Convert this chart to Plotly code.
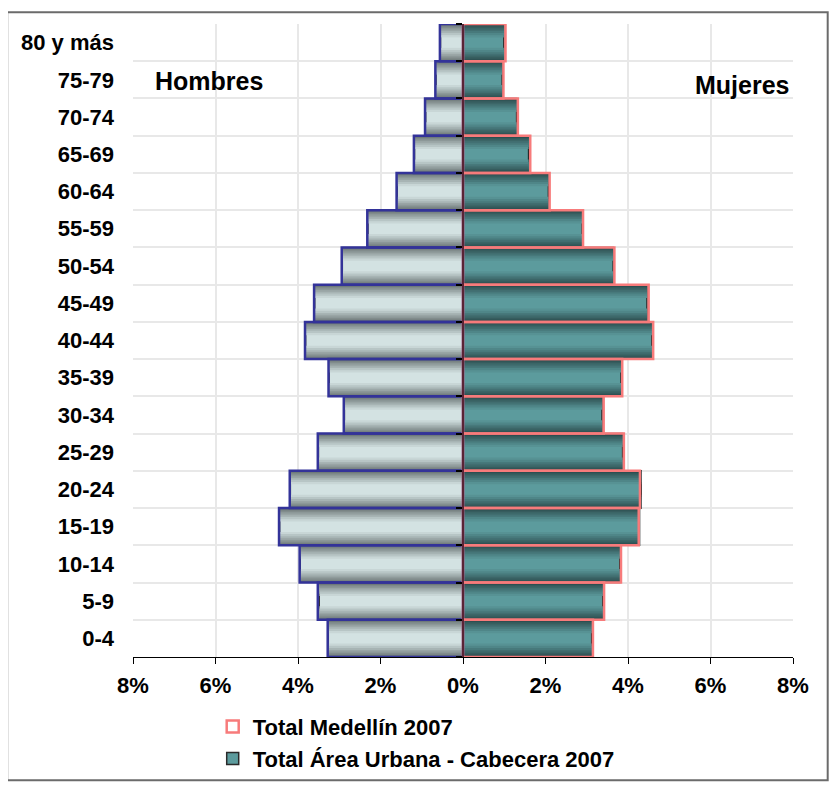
import plotly.graph_objects as go

# ---------------- data ----------------
edades = ["0-4", "5-9", "10-14", "15-19", "20-24", "25-29", "30-34", "35-39",
          "40-44", "45-49", "50-54", "55-59", "60-64", "65-69", "70-74", "75-79", "80 y más"]

hombres_medellin = [3.28, 3.52, 3.96, 4.46, 4.20, 3.52, 2.89, 3.26, 3.83, 3.61,
                    2.94, 2.32, 1.61, 1.19, 0.92, 0.67, 0.56]
hombres_urbana = [3.26, 3.48, 3.94, 4.44, 4.18, 3.50, 2.87, 3.24, 3.81, 3.59,
                  2.92, 2.30, 1.59, 1.17, 0.90, 0.65, 0.54]
mujeres_medellin = [3.15, 3.42, 3.83, 4.26, 4.29, 3.90, 3.41, 3.86, 4.61, 4.50,
                    3.67, 2.91, 2.10, 1.63, 1.33, 0.98, 1.03]
mujeres_urbana = [3.12, 3.39, 3.80, 4.28, 4.32, 3.87, 3.37, 3.83, 4.58, 4.46,
                  3.64, 2.89, 2.07, 1.59, 1.30, 0.95, 0.99]

x_ticks = [-8, -6, -4, -2, 0, 2, 4, 6, 8]
x_ticktext = ["8%", "6%", "4%", "2%", "0%", "2%", "4%", "6%", "8%"]

# ---------------- style ----------------
FONT = "Liberation Sans, Arial, sans-serif"
NAVY = "#333399"
PINK = "#f77b7b"


def hex2rgb(h):
    h = h.lstrip("#")
    return [int(h[i:i + 2], 16) for i in (0, 2, 4)]


def mix(c1, c2, k):
    a, b = hex2rgb(c1), hex2rgb(c2)
    return "rgb(%d,%d,%d)" % tuple(round(a[i] + (b[i] - a[i]) * k) for i in range(3))


male_center, male_edge = "#d3e2e2", "#646e6e"
fem_center, fem_edge = "#5c9b9d", "#284647"
levels = [0.36, 0.30, 0.24, 0.19, 0.145, 0.105, 0.07, 0.04, 0.015]

neg_h_med = [-v for v in hombres_medellin]
neg_h_urb = [-v for v in hombres_urbana]

fig = go.Figure()

# base bars (Área Urbana)
fig.add_trace(go.Bar(y=edades, x=neg_h_urb, orientation="h", width=1.0,
                     marker=dict(color=male_center, line=dict(color="#2a2a2a", width=1)),
                     showlegend=False, hoverinfo="skip"))
fig.add_trace(go.Bar(y=edades, x=mujeres_urbana, orientation="h", width=1.0,
                     name="Total Área Urbana - Cabecera 2007", legend="legend2",
                     marker=dict(color=fem_center, line=dict(color="#2a2a2a", width=1.5)),
                     showlegend=True, hoverinfo="skip"))

# shading strips to imitate the vertical gradient
for t in levels:
    k = max(0.0, min(1.0, 1 - t / 0.40))
    for vals, c0, c1 in ((neg_h_urb, male_center, male_edge),
                         (mujeres_urbana, fem_center, fem_edge)):
        col = mix(c0, c1, k)
        for off in (0.5 - t, -0.5):
            fig.add_trace(go.Bar(y=edades, x=vals, orientation="h", width=t, offset=off,
                                 marker=dict(color=col, line=dict(width=0)),
                                 showlegend=False, hoverinfo="skip"))

# outlines (Total Medellín) on the overlaid axis
fig.add_trace(go.Bar(y=edades, x=neg_h_med, orientation="h", width=1.0, yaxis="y2",
                     marker=dict(color="rgba(0,0,0,0)", line=dict(color=NAVY, width=2.5)),
                     showlegend=False, hoverinfo="skip"))
fig.add_trace(go.Bar(y=edades, x=mujeres_medellin, orientation="h", width=1.0, yaxis="y2",
                     name="Total Medellín 2007", legend="legend",
                     marker=dict(color="rgba(255,255,255,0)", line=dict(color=PINK, width=2.5)),
                     showlegend=True, hoverinfo="skip"))

# page body has an 8px default margin -> work in figure coordinates
OFF = 8
W, H = 838 - OFF, 785 - OFF
L, R, T, B = 133.3 - OFF, 793.3 - OFF, 24.3 - OFF, 657.3 - OFF
pw, ph = R - L, B - T


def px(x):  # x given in screenshot pixels
    return (x - OFF - L) / pw


def py(y):  # y given in screenshot pixels
    return (B - (y - OFF)) / ph


fig.update_layout(
    width=W, height=H,
    margin=dict(l=L, r=W - R, t=T, b=H - B, pad=0, autoexpand=False),
    barmode="overlay",
    plot_bgcolor="white", paper_bgcolor="white",
    font=dict(family=FONT, size=22, color="black", weight="bold"),
    xaxis=dict(range=[-8, 8], tickvals=x_ticks, ticktext=x_ticktext,
               showgrid=True, gridcolor="#e8e8e8", gridwidth=2,
               zeroline=False, showline=True, linecolor="black", linewidth=1,
               ticks="outside", ticklen=6, tickcolor="black", tickwidth=1,
               ticklabelstandoff=3,
               tickfont=dict(family=FONT, size=22, weight="bold")),
    yaxis=dict(type="category", categoryarray=edades, range=[-0.5, 16.5],
               tickson="boundaries", ticks="", showgrid=True,
               gridcolor="#e8e8e8", gridwidth=2, zeroline=False, showline=False,
               ticklabelstandoff=18,
               tickfont=dict(family=FONT, size=22, weight="bold")),
    yaxis2=dict(type="category", categoryarray=edades, range=[-0.5, 16.5],
                overlaying="y", anchor="free", position=0.5, side="left",
                tickson="boundaries", ticks="outside", ticklen=6, tickcolor="black",
                tickwidth=2, showticklabels=False, showgrid=False, zeroline=False,
                showline=True, linecolor="#5a2436", linewidth=2),
    legend=dict(x=px(213), y=py(727), xanchor="left", yanchor="middle",
                bgcolor="rgba(0,0,0,0)", font=dict(family=FONT, size=22, weight="bold")),
    legend2=dict(x=px(213), y=py(759), xanchor="left", yanchor="middle",
                 bgcolor="rgba(0,0,0,0)", font=dict(family=FONT, size=22, weight="bold")),
    annotations=[
        dict(text="Hombres", x=px(209), y=py(81), xref="paper", yref="paper",
             showarrow=False, xanchor="center", yanchor="middle",
             font=dict(family=FONT, size=25, weight="bold")),
        dict(text="Mujeres", x=px(742.5), y=py(85), xref="paper", yref="paper",
             showarrow=False, xanchor="center", yanchor="middle",
             font=dict(family=FONT, size=25, weight="bold")),
    ],
    shapes=[dict(type="rect", xref="paper", yref="paper",
                 x0=px(7.5), x1=px(828), y0=py(780.5), y1=py(12.5),
                 line=dict(color="#6b6b6b", width=2), fillcolor="rgba(0,0,0,0)",
                 layer="below")],
)

fig.write_html("out.html")
